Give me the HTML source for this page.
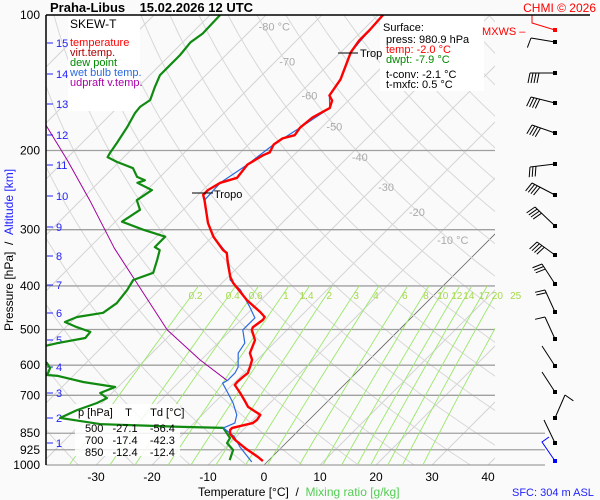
<!DOCTYPE html>
<html><head><meta charset="utf-8"><style>
body{margin:0;background:#fafafa;}
svg{display:block;font-family:"Liberation Sans",sans-serif;}
</style></head><body>
<svg id="chart" width="600" height="500" viewBox="0 0 600 500">
<rect x="0" y="0" width="600" height="500" fill="#fafafa"/>
<defs><clipPath id="plotclip"><rect x="46" y="15" width="449" height="450"/></clipPath></defs>
<g id="grid" clip-path="url(#plotclip)"></g>
<g id="isobars"></g>
<g id="mix" clip-path="url(#plotclip)"></g>
<rect x="68" y="15" width="72" height="96" fill="#fff"/>
<rect x="380" y="15" width="104" height="76" fill="#fff"/>
<rect x="75" y="404" width="105" height="52" fill="#fff" opacity="0.85"/>
<g id="labels"></g>
<g id="series" clip-path="url(#plotclip)"></g>
<g id="barbs"></g>
<line x1="46" y1="15" x2="46" y2="465" stroke="#000" stroke-width="1.5"/>
<line x1="46" y1="15" x2="590" y2="15" stroke="#000" stroke-width="1.5"/>
<text x="50" y="12" font-size="13" font-weight="bold">Praha-Libus&#160;&#160;&#160;&#160;15.02.2026 12 UTC</text>
<text x="596" y="12" font-size="12" fill="#f00" text-anchor="end">CHMI © 2026</text>
<text x="482" y="35" font-size="11" fill="#f00">MXWS –</text>
<g font-size="11">
<text x="70" y="28" font-size="12">SKEW-T</text>
<text x="70" y="46" fill="#f00">temperature</text>
<text x="70" y="56" fill="#a00">virt.temp.</text>
<text x="70" y="66" fill="#080">dew point</text>
<text x="70" y="76" fill="#2a6ae0">wet bulb temp.</text>
<text x="70" y="86" fill="#a0a">udpraft v.temp.</text>
</g>
<g font-size="11">
<text x="383" y="31">Surface:</text>
<text x="386" y="43">press: 980.9 hPa</text>
<text x="386" y="53" fill="#f00">temp: -2.0 °C</text>
<text x="386" y="63" fill="#080">dwpt: -7.9 °C</text>
<text x="386" y="78">t-conv: -2.1 °C</text>
<text x="386" y="88">t-mxfc: 0.5 °C</text>
</g>
<g font-size="11">
<text x="78" y="416">p [hPa]&#160;&#160;&#160;&#160;T&#160;&#160;&#160;&#160;&#160;&#160;Td [°C]</text>
<text x="85" y="432">500&#160;&#160;&#160;-27.1&#160;&#160;&#160;&#160;-56.4</text>
<text x="85" y="444">700&#160;&#160;&#160;-17.4&#160;&#160;&#160;&#160;-42.3</text>
<text x="85" y="456">850&#160;&#160;&#160;-12.4&#160;&#160;&#160;&#160;-12.4</text>
</g>
<line x1="338" y1="53" x2="358" y2="53" stroke="#000"/>
<text x="360" y="57" font-size="11">Trop</text>
<line x1="192" y1="193" x2="213" y2="193" stroke="#000"/>
<text x="214" y="198" font-size="11">Tropo</text>
<text transform="translate(13,250) rotate(-90)" font-size="12" text-anchor="middle">Pressure [hPa]&#160;&#160;/&#160;&#160;<tspan fill="#22f">Altitude [km]</tspan></text>
<text x="198" y="496" font-size="12">Temperature [°C]&#160;&#160;/&#160;&#160;<tspan fill="#5c5">Mixing ratio [g/kg]</tspan></text>
<text x="512" y="496" font-size="11" fill="#22f">SFC: 304 m ASL</text>
</svg>
<script>
// ---- data ----
const tempP = [980,960,917,880,853,836,827,807,794,774,766,743,724,692,664,654,638,625,606,584,564,528,501,494,476,469,457,430,394,382,356,338,333,311,290,258,251,245,236,230,221,215,205,202,194,188,185,178,169,161,155,151,139,121,114,108,100];
const tempT = [-0.9,-2.5,-6.4,-9.6,-11.6,-12.3,-12.3,-9.5,-9.3,-9.6,-10.5,-13.2,-14.6,-17.1,-19.5,-19.6,-19.5,-19.3,-20.0,-20.9,-22.5,-23.9,-26.3,-26.6,-26.1,-26.3,-28.0,-32.5,-38.0,-39.6,-42.5,-44.5,-45.7,-49.8,-53.2,-57.9,-59.1,-59.1,-58.2,-56.1,-56.4,-56.6,-55.5,-54.8,-55.5,-55.0,-53.4,-53.8,-53.4,-52.0,-52.9,-54.3,-55.2,-58.2,-58.8,-58.8,-59.1];
const dewP = [975,926,894,871,827,823,811,786,755,728,710,692,671,654,634,631,609,593,569,547,536,522,506,494,481,469,459,437,408,388,374,350,333,328,311,300,288,271,258,245,236,233,229,219,212,207,203,192,177,165,160,154.5,144.5,136,129,122.7,115,110,100];
const dewT = [-7.0,-8.2,-10.5,-10.9,-13.9,-21.4,-36.6,-44.8,-43.2,-40.9,-40.0,-42.1,-40.5,-47.1,-52.7,-54.8,-55.5,-57.0,-61.4,-61.1,-58.6,-54.6,-54.8,-58.0,-61.1,-59.8,-55.9,-55.2,-55.7,-56.4,-54.1,-55.7,-57.0,-58.4,-58.4,-63.6,-68.8,-67.7,-70.0,-69.1,-73.0,-72.1,-74.1,-76.4,-80.4,-82.9,-83.2,-83.8,-84.8,-85.9,-86.1,-85.5,-87.0,-88.2,-88.2,-88.2,-88.6,-88.0,-88.2];
const wetP = [985,912,863,827,807,774,728,692,658,648,625,606,564,536,501,471,446,408,388,369,338,311,290,258,236,215,194,178,161,151,139,121,108,100];
const wetT = [-2.7,-7.5,-10.5,-13.9,-12.7,-13.8,-16.6,-19.3,-22.0,-21.6,-21.6,-22.1,-24.6,-25.2,-27.9,-27.9,-30.7,-35.5,-39.1,-40.9,-44.5,-49.8,-53.2,-57.9,-58.2,-56.6,-55.5,-53.8,-52.0,-54.3,-55.2,-58.2,-58.8,-59.1];
const updP = [167,178,210,258,330,382,501,584,648];
const updT = [-102.5,-98.9,-89.6,-78.4,-65.4,-57.0,-41.4,-30.2,-21.8];
const isobarLevels = [200,300,400,500,600,700,850,925,1000];
const pressLabels = ["100","200","300","400","500","600","700","850","925","1000"];
const pressLabelP = [100,200,300,400,500,600,700,850,925,1000];
const tempTicks = [-30,-20,-10,0,10,20,30,40];
const altKm = [1,2,3,4,5,6,7,8,9,10,11,12,13,14,15];
const altKmP = [877,804,733,661,596,525,466,415,369,334,294,259,226,197,172];
const isoLabelT = [-80,-70,-60,-50,-40,-30,-20,-10];
const isoLabelP = [106,127,151,177,207,241,274,316];
const mixRatios = [0.2,0.4,0.6,1,1.4,2,3,4,6,8,10,12,14,17,20,25];
const windY = [42,73,103,133,164,195,226,255,284,312,339,366,392,418,443];
const windDx = [-24,-25,-24,-23,-25,-23,-20,-18,-13,-10,-10,-13,-13,10,-11];
const windDy = [-4,0,-6,-8,3,-12,-19,-13,-20,-22,-22,-20,-20,-23,-23];
const windBarbs = [1,4,4,4,3,4,4,4,3,2,1,0,0,1,0];

// ---- axis functions ----
function yP(p){return 15+450*Math.log10(p/100);}
function xT(T,p){return 264+5.6*T+(465-yP(p));}
const NS="http://www.w3.org/2000/svg";
function mk(tag,attrs,parent){const e=document.createElementNS(NS,tag);for(const k in attrs)e.setAttribute(k,attrs[k]);parent.appendChild(e);return e;}
const grid=document.getElementById('grid'),iso=document.getElementById('isobars'),mix=document.getElementById('mix'),lab=document.getElementById('labels'),ser=document.getElementById('series'),barbs=document.getElementById('barbs');

for(let T=-170;T<=40;T+=10){
  const l=mk('line',{x1:xT(T,1000),y1:yP(1000),x2:xT(T,100),y2:yP(100),stroke:T===0?'#666':'#d4d4d4','stroke-width':T===0?0.8:1},grid);
  
  
}
for(let th=240;th<=560;th+=10){
  let pts=[];for(let p=100;p<=1000;p+=10){pts.push(xT(th*Math.pow(p/1000,0.286)-273.15,p).toFixed(1)+','+yP(p).toFixed(1));}
  const l=mk('polyline',{points:pts.join(' '),fill:'none',stroke:'#d8d8d8','stroke-width':1},grid);
  
  
}
isobarLevels.forEach(p=>{
  const l=mk('line',{x1:46,y1:yP(p),x2:p>=850?545:495,y2:yP(p),stroke:'#a0a0a0','stroke-width':1.3},iso);
  
  
});
function tdMix(w,p){const e=w*p/(622+w);const a=Math.log(e/6.112);return 243.5*a/(17.67-a);}
mixRatios.forEach(w=>{
  let pts=[];for(let p=400;p<=1000;p+=20){pts.push(xT(tdMix(w,p),p).toFixed(1)+','+yP(p).toFixed(1));}
  const l=mk('polyline',{points:pts.join(' '),fill:'none',stroke:'#9be86a','stroke-width':0.9},mix);
  
  
  const t=mk('text',{x:xT(tdMix(w,400),400)-3,y:yP(400)+13,'font-size':10,fill:'#a6d84a','text-anchor':'middle'},lab);
  t.textContent=String(w);
  
  
});
isoLabelT.forEach((T,i)=>{
  const p=isoLabelP[i];
  const t=mk('text',{x:xT(T,p)+4,y:yP(p)+4,'font-size':11,fill:'#aaa'},lab);
  t.textContent=(i===0||i===isoLabelT.length-1)?T+' °C':String(T);
  
  
});
pressLabels.forEach((s,i)=>{
  const t=mk('text',{x:40,y:yP(pressLabelP[i])+4,'font-size':12,'text-anchor':'end'},lab);
  t.textContent=s;
  
  
});
tempTicks.forEach(T=>{
  const t=mk('text',{x:xT(T,1000),y:481,'font-size':12,'text-anchor':'middle'},lab);
  t.textContent=String(T);
  
  
});
const altY=[443,418,393,367,340,313,285,256,227,196,165,135,104,74,43];
altKm.forEach((k,i)=>{
  const y=altY[i];
  const l=mk('line',{x1:47,y1:y,x2:53,y2:y,stroke:'#22f'},lab);
  
  
  const t=mk('text',{x:56,y:y+4,'font-size':11,fill:'#22f'},lab);
  t.textContent=String(k);
  
  
});
function line(P,T,color,w,name){
  const pts=P.map((p,i)=>xT(T[i],p).toFixed(1)+','+yP(p).toFixed(1)).join(' ');
  const l=mk('polyline',{points:pts,fill:'none',stroke:color,'stroke-width':w,'stroke-linejoin':'round'},ser);
  
  
}
line(updP,updT,'#a000a0',1,'updraft-line');
line(dewP,dewT,'#108a10',2.2,'dew-point-line');
line(wetP,wetT,'#2a6ae0',1.2,'wet-bulb-line');
line(tempP,tempT,'#f00',2.4,'temperature-line');
windY.forEach((y,i)=>{
  const x=555,ex=x+windDx[i],ey=y+windDy[i];
  const s=mk('line',{x1:x,y1:y,x2:ex,y2:ey,stroke:'#000','stroke-width':1},barbs);
  
  
  const L=Math.hypot(windDx[i],windDy[i]),ux=windDx[i]/L,uy=windDy[i]/L;
  for(let b=0;b<windBarbs[i];b++){
    const bx=ex-ux*b*3,by=ey-uy*b*3;
    const px=uy*10+ux*2,py=-ux*10+uy*2;
    const sgn=windDx[i]<0?1:-1;
    const bl=mk('line',{x1:bx,y1:by,x2:bx+sgn*px,y2:by+sgn*py,stroke:'#000'},barbs);
    
    
  }
  const d=mk('rect',{x:x-2,y:y-2,width:4,height:4,fill:'#000'},barbs);
  
  
});
const sb=mk('polyline',{points:'555,461 542,442 549,437',fill:'none',stroke:'#00f'},barbs);


const sd=mk('rect',{x:553,y:459,width:4,height:4,fill:'#00f'},barbs);


const mx=mk('polyline',{points:'555,30 532,23 532,15',fill:'none',stroke:'#f00'},barbs);


const md=mk('rect',{x:553,y:28,width:4,height:4,fill:'#f00'},barbs);


</script>
</body></html>
